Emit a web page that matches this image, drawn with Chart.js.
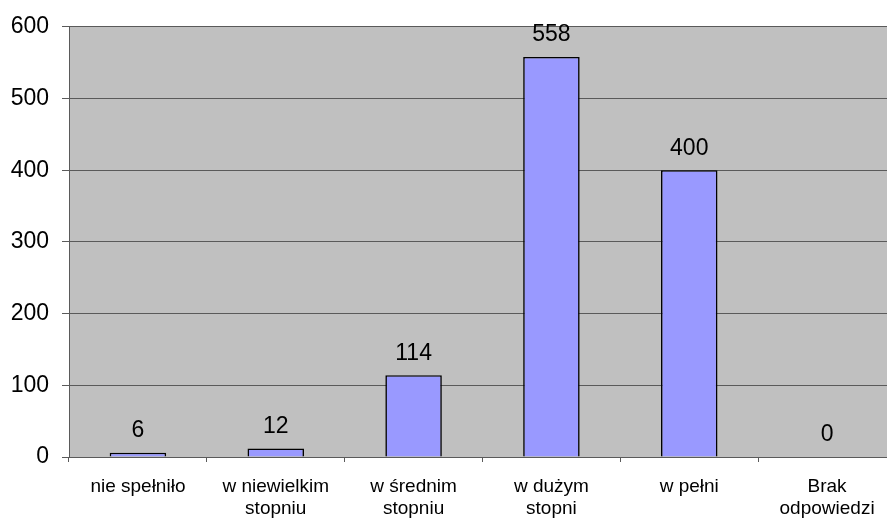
<!DOCTYPE html>
<html>
<head>
<meta charset="utf-8">
<script src="https://cdn.jsdelivr.net/npm/chart.js@4"></script>
<style>
html,body{margin:0;padding:0;background:#fff;overflow:hidden}
#wrap{width:896px;height:520px}
</style>
</head>
<body>
<div id="wrap"><canvas id="c"></canvas></div>
<script>
const categories=[["nie spełniło"],["w niewielkim","stopniu"],["w średnim","stopniu"],["w dużym","stopni"],["w pełni"],["Brak","odpowiedzi"]]
const values=[6,12,114,558,400,0]
const yTicks=[0,100,200,300,400,500,600]

const plotBg={
id:"plotBg",
beforeDraw(ch){
const a=ch.chartArea,ctx=ch.ctx
ctx.save()
ctx.fillStyle="#C0C0C0"
ctx.fillRect(a.left,a.top,a.right-a.left,a.bottom-a.top)
ctx.restore()
}
}

const valueLabels={
id:"valueLabels",
afterDatasetsDraw(ch){
const ctx=ch.ctx
const meta=ch.getDatasetMeta(0)
ctx.save()
ctx.font="23px 'Liberation Sans', Arial, sans-serif"
ctx.fillStyle="#000"
ctx.textAlign="center"
ctx.textBaseline="middle"
meta.data.forEach((bar,i)=>{
ctx.fillText(String(values[i]),bar.x,bar.y-22)
})
ctx.restore()
}
}

new Chart(document.getElementById("c"),{
type:"bar",
data:{
labels:categories,
datasets:[{
data:values,
backgroundColor:"#9999FF",
borderColor:"#000",
borderWidth:1.6,
barPercentage:0.41,
categoryPercentage:1
}]
},
options:{
responsive:true,
maintainAspectRatio:false,
animation:false,
layout:{padding:{top:26,right:0,left:0,bottom:0}},
plugins:{legend:{display:false},tooltip:{enabled:false}},
scales:{
x:{
offset:true,
grid:{offset:true,drawOnChartArea:false,drawTicks:true,tickLength:5,color:"#5a5a5a"},
border:{color:"#5a5a5a",width:1},
ticks:{color:"#000",font:{family:"'Liberation Sans', Arial, sans-serif",size:19},padding:13,maxRotation:0,autoSkip:false},
afterFit(s){s.height=63}
},
y:{
min:0,max:600,
afterBuildTicks(s){s.ticks=yTicks.map(v=>({value:v}))},
grid:{color:"#5a5a5a",tickLength:7,drawTicks:true},
border:{color:"#5a5a5a",width:1},
ticks:{color:"#000",font:{family:"'Liberation Sans', Arial, sans-serif",size:23},padding:13},
afterFit(s){s.width=69}
}
}
},
plugins:[plotBg,valueLabels]
})
</script>
</body>
</html>
